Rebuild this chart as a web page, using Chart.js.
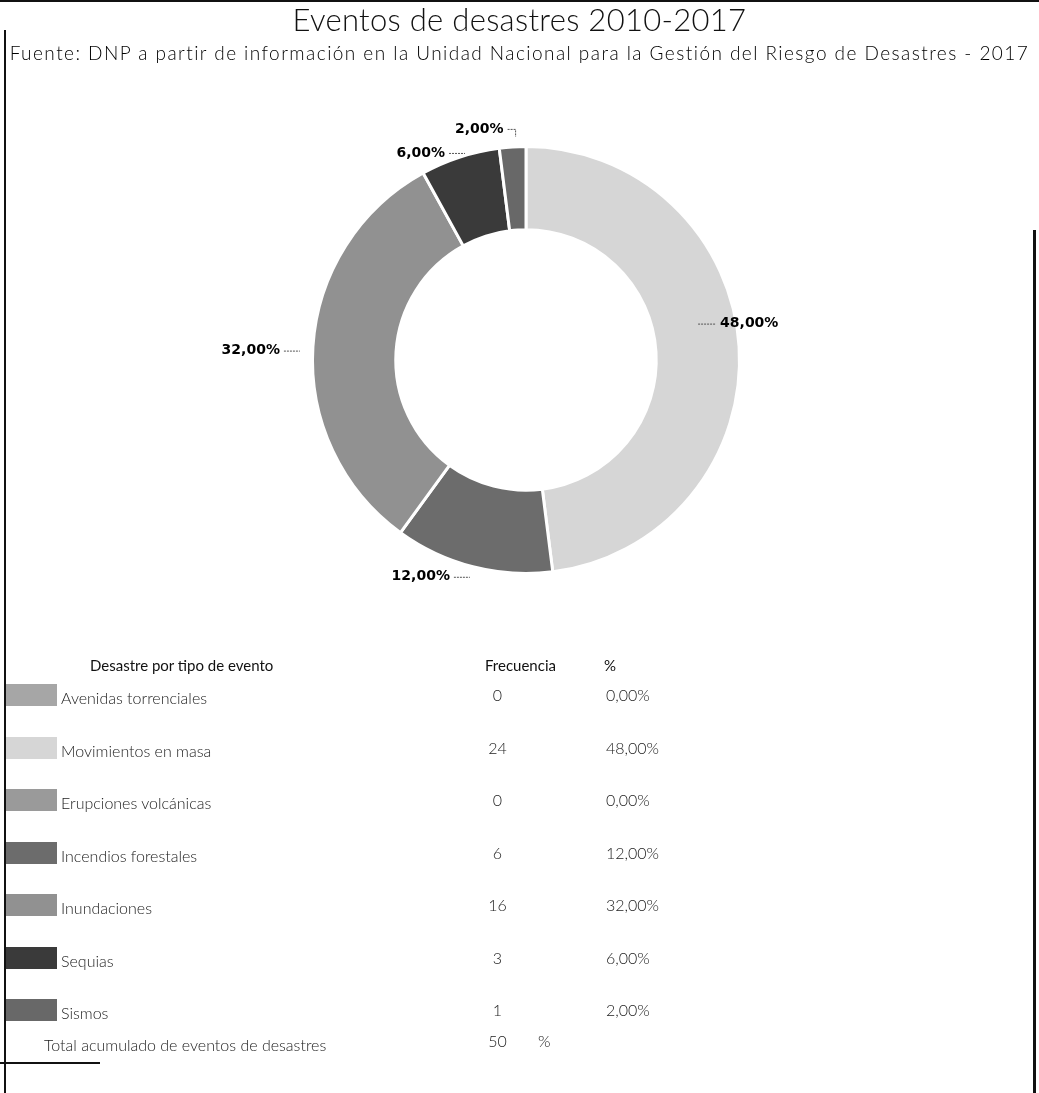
<!DOCTYPE html>
<html>
<head>
<meta charset="utf-8">
<script src="https://cdn.jsdelivr.net/npm/chart.js@4.4.0/dist/chart.umd.min.js"></script>
<style>
  html, body { margin: 0; padding: 0; background: #ffffff; }
  #wrap { position: relative; width: 1039px; height: 1093px; overflow: hidden; background: #fff; }
  #c { position: absolute; left: 0; top: 0; }
  .txt { position: absolute; font-family: 'Lato', 'Open Sans', sans-serif; color: #222; white-space: nowrap; }
  #title { left: 0; width: 1039px; top: 0px; text-align: center; font-size: 31px; font-weight: 300; letter-spacing: 0.3px; color: #111; }
  #subtitle { left: 0; width: 1039px; top: 41px; text-align: center; font-size: 19px; font-weight: 300; letter-spacing: 1.45px; color: #000; }
  .hdr { font-size: 15px; font-weight: 400; color: #111; }
  .cell { font-size: 16px; font-weight: 300; color: #222; }
  .sw { position: absolute; width: 52px; height: 22px; }
  .line { position: absolute; background: #111; }
</style>
</head>
<body>
<div id="wrap">
  <canvas id="c" width="1039" height="1093"></canvas>
  <div id="title" class="txt"></div>
  <div id="subtitle" class="txt"></div>
  <div id="table"></div>
  <div class="line" style="left:0;top:0;width:1039px;height:2px;"></div>
  <div class="line" style="left:4px;top:30px;width:2px;height:1063px;"></div>
  <div class="line" style="left:1033px;top:230px;width:3px;height:863px;"></div>
  <div class="line" style="left:0;top:1062px;width:100px;height:2px;"></div>
</div>
<script>
// ---- data ----
const titleText = 'Eventos de desastres 2010-2017';
const subtitleText = 'Fuente: DNP a partir de información en la Unidad Nacional para la Gestión del Riesgo de Desastres - 2017';
const headers = ['Desastre por tipo de evento', 'Frecuencia', '%'];
const categories = ['Avenidas torrenciales', 'Movimientos en masa', 'Erupciones volcánicas', 'Incendios forestales', 'Inundaciones', 'Sequias', 'Sismos'];
const frequencies = [0, 24, 0, 6, 16, 3, 1];
const percentLabels = ['0,00%', '48,00%', '0,00%', '12,00%', '32,00%', '6,00%', '2,00%'];
const totalLabel = 'Total acumulado de eventos de desastres';
const totalValue = 50;

// ---- styles ----
const sliceColors = ['#a6a6a6', '#d6d6d6', '#9a9a9a', '#6c6c6c', '#919191', '#3a3a3a', '#686868'];
// offsets of each label's text edge from the slice's outer mid point
const labelOffsets = [null, {dx:-19, dy:-23, side:'right'}, null, {dx:-23, dy:10, side:'left'}, {dx:-33, dy:4, side:'left'}, {dx:-15, dy:-4, side:'left'}, {dx:-9, dy:-18, side:'left', hook:true}];

document.getElementById('title').textContent = titleText;
document.getElementById('subtitle').textContent = subtitleText;

// ---- table ----
const table = document.getElementById('table');
function addText(txt, cls, left, top, extra) {
  const d = document.createElement('div');
  d.className = 'txt ' + cls;
  d.textContent = txt;
  d.style.left = left + 'px';
  d.style.top = top + 'px';
  if (extra) Object.assign(d.style, extra);
  table.appendChild(d);
  return d;
}
addText(headers[0], 'hdr', 90, 656);
addText(headers[1], 'hdr', 485, 656);
addText(headers[2], 'hdr', 604, 656);
categories.forEach((cat, i) => {
  const top = 684 + i * 52.5;
  const sw = document.createElement('div');
  sw.className = 'sw';
  sw.style.left = '5px';
  sw.style.top = top + 'px';
  sw.style.background = sliceColors[i];
  table.appendChild(sw);
  addText(cat, 'cell', 61, top + 4);
  addText(String(frequencies[i]), 'cell', 475, top + 1, {width: '45px', textAlign: 'center'});
  addText(percentLabels[i], 'cell', 606, top + 1);
});
addText(totalLabel, 'cell', 44, 1035);
addText(String(totalValue), 'cell', 475, 1031, {width: '45px', textAlign: 'center'});
addText('%', 'cell', 538, 1031);

// ---- label plugin ----
const labelPlugin = {
  id: 'sliceLabels',
  afterDatasetsDraw(chart) {
    const ctx = chart.ctx;
    const meta = chart.getDatasetMeta(0);
    const data = chart.data.datasets[0].data;
    const total = data.reduce((a, b) => a + b, 0);
    ctx.save();
    ctx.font = 'bold 14px "DejaVu Sans", sans-serif';
    ctx.textBaseline = 'middle';
    meta.data.forEach((arc, i) => {
      if (!data[i] || !labelOffsets[i]) return;
      const p = arc.getProps(['x', 'y', 'startAngle', 'endAngle', 'outerRadius'], true);
      const mid = (p.startAngle + p.endAngle) / 2;
      const ox = p.x + Math.cos(mid) * p.outerRadius;
      const oy = p.y + Math.sin(mid) * p.outerRadius;
      const o = labelOffsets[i];
      const tx = ox + o.dx, ty = oy + o.dy;
      const txt = (data[i] / total * 100).toFixed(2).replace('.', ',') + '%';
      ctx.fillStyle = '#000';
      ctx.strokeStyle = '#555';
      ctx.lineWidth = 1;
      ctx.setLineDash([2, 1]);
      ctx.beginPath();
      if (o.side === 'left') {
        ctx.textAlign = 'right';
        ctx.fillText(txt, tx, ty);
        ctx.moveTo(tx + 4, ty + 0.5);
        ctx.lineTo(tx + (o.hook ? 12 : 20), ty + 0.5);
        if (o.hook) ctx.lineTo(tx + 12, ty + 8);
      } else {
        ctx.textAlign = 'left';
        ctx.fillText(txt, tx, ty);
        ctx.moveTo(tx - 22, ty + 0.5);
        ctx.lineTo(tx - 4, ty + 0.5);
      }
      ctx.stroke();
    });
    ctx.restore();
  }
};

new Chart(document.getElementById('c'), {
  type: 'doughnut',
  data: {
    labels: categories,
    datasets: [{
      data: frequencies,
      backgroundColor: sliceColors,
      borderColor: '#ffffff',
      borderWidth: 3
    }]
  },
  options: {
    responsive: false,
    animation: false,
    cutout: '61%',
    rotation: 0,
    layout: { padding: { left: 311, right: 298, top: 145, bottom: 518 } },
    plugins: {
      legend: { display: false },
      title: { display: false },
      tooltip: { enabled: false }
    }
  },
  plugins: [labelPlugin]
});
</script>
</body>
</html>
